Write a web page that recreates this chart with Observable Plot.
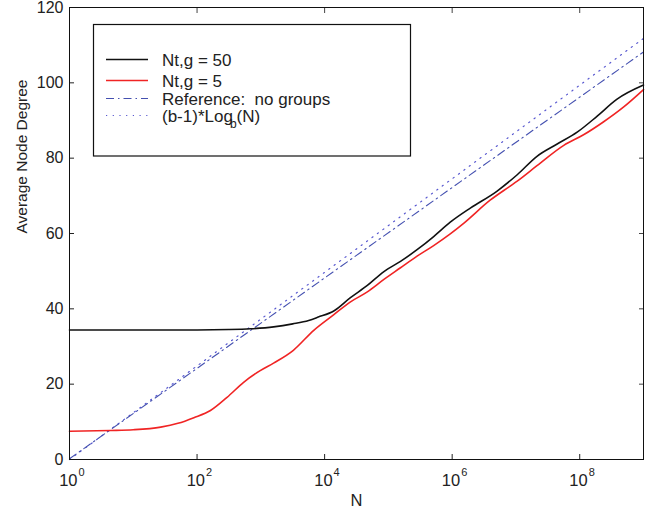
<!DOCTYPE html>
<html>
<head>
<meta charset="utf-8">
<script src="https://cdn.jsdelivr.net/npm/d3@7"></script>
<script src="https://cdn.jsdelivr.net/npm/@observablehq/plot@0.6"></script>
<style>
  html, body { margin: 0; padding: 0; background: #fff; }
  svg { display: block; }
</style>
</head>
<body>
<div id="chart"></div>
<script>
// ---- data ----
// x values given as log10(N)
const blackLogN = [0, 1, 2, 2.5, 2.84, 3.2, 3.5, 3.75, 3.9, 4.15, 4.4, 4.67, 4.93, 5.19, 5.45, 5.71, 5.97, 6.29, 6.7, 7.02, 7.33, 7.64, 7.96, 8.27, 8.58, 9];
const blackDeg  = [34.4, 34.4, 34.4, 34.5, 34.7, 35.2, 36.0, 36.9, 37.8, 39.5, 42.9, 46.2, 49.9, 52.6, 55.7, 59.2, 63.0, 66.8, 71.2, 75.6, 80.5, 83.7, 86.9, 91.1, 95.6, 99.4];

const redLogN = [0, 0.64, 1.0, 1.43, 1.7, 1.95, 2.21, 2.47, 2.73, 2.99, 3.2, 3.51, 3.83, 4.14, 4.4, 4.67, 4.93, 5.19, 5.45, 5.71, 5.97, 6.18, 6.6, 6.91, 7.02, 7.33, 7.75, 8.06, 8.37, 8.69, 9];
const redDeg  = [7.5, 7.7, 7.9, 8.6, 9.6, 11.1, 13.0, 16.5, 20.5, 23.6, 25.6, 29.0, 34.3, 38.4, 41.8, 44.5, 47.8, 50.9, 54.0, 56.8, 59.9, 62.7, 68.9, 72.6, 73.9, 78.0, 83.4, 86.2, 89.6, 93.6, 98.2];

const refLogN = [0, 9];
const refDeg  = [0.2, 108.2];

const logbLogN = [0, 9];
const logbDeg  = [0, 111.8];

const seriesNames = ["Nt,g = 50", "Nt,g = 5", "Reference:  no groups", "(b-1)*Log_b(N)"];
const yTicks = [0, 20, 40, 60, 80, 100, 120];
const xTickExponents = [0, 2, 4, 6, 8];

// ---- build tables ----
const toRows = (ls, vs) => ls.map((l, i) => ({N: Math.pow(10, l), deg: vs[i]}));
const black = toRows(blackLogN, blackDeg);
const red = toRows(redLogN, redDeg);
const ref = toRows(refLogN, refDeg);
const logb = toRows(logbLogN, logbDeg);

const FONT = "'Liberation Sans', Arial, Helvetica, sans-serif";
const COL_BLACK = "#111";
const COL_RED = "#f02424";
const COL_REF = "#4450b0";
const COL_DOT = "#5858d0";

const chart = Plot.plot({
  width: 665,
  height: 514,
  marginLeft: 69,
  marginRight: 22,
  marginTop: 7,
  marginBottom: 55,
  style: {fontFamily: FONT, background: "#fff", color: "#222"},
  x: {type: "log", domain: [1, 1e9], axis: null},
  y: {domain: [0, 120], axis: null},
  marks: [
    Plot.line(logb, {x: "N", y: "deg", stroke: COL_DOT, strokeWidth: 1.2, strokeDasharray: "1.2 5.5"}),
    Plot.line(ref, {x: "N", y: "deg", stroke: COL_REF, strokeWidth: 1.1, strokeDasharray: "8 4 1.5 4"}),
    Plot.line(red, {x: "N", y: "deg", stroke: COL_RED, strokeWidth: 1.6, curve: "monotone-x"}),
    Plot.line(black, {x: "N", y: "deg", stroke: COL_BLACK, strokeWidth: 1.6, curve: "monotone-x"}),
    // axes: inward ticks on all four sides
    Plot.axisY(yTicks, {anchor: "left", label: null, tickSize: -5, tickPadding: 11, fontSize: 16, tickFormat: d => String(d), stroke: "#222", fill: "#222"}),
    Plot.axisY(yTicks, {anchor: "right", label: null, tickSize: -5, tickFormat: () => "", stroke: "#444"}),
    Plot.axisX(xTickExponents.map(e => Math.pow(10, e)), {anchor: "bottom", label: null, tickSize: -5, tickFormat: () => "", stroke: "#222"}),
    Plot.axisX(xTickExponents.map(e => Math.pow(10, e)), {anchor: "top", label: null, tickSize: -5, tickFormat: () => "", stroke: "#444"}),
    // x tick labels: 10 with superscript exponent
    Plot.text(xTickExponents, {x: e => Math.pow(10, e), frameAnchor: "bottom", text: () => "10", textAnchor: "end", dx: 8, dy: 26, lineAnchor: "bottom", fontSize: 16.5, fill: "#222"}),
    Plot.text(xTickExponents, {x: e => Math.pow(10, e), frameAnchor: "bottom", text: e => String(e), textAnchor: "start", dx: 9, dy: 16, lineAnchor: "bottom", fontSize: 11, fill: "#222"}),
    // axis labels
    Plot.text(["N"], {frameAnchor: "bottom", text: d => d, dy: 46, lineAnchor: "bottom", fontSize: 16.5, fill: "#222"}),
    Plot.text(["Average Node Degree"], {frameAnchor: "left", text: d => d, rotate: -90, dx: -43, lineAnchor: "bottom", fontSize: 15.5, fill: "#222"}),
    Plot.frame({stroke: "#111", strokeWidth: 1})
  ]
});

document.getElementById("chart").appendChild(chart);

// ---- legend box inside plot area ----
const svg = d3.select(chart);
const lg = svg.append("g").attr("font-family", FONT).attr("font-size", 17).attr("fill", "#222").attr("text-anchor", "start");
lg.append("rect").attr("x", 93.5).attr("y", 24.5).attr("width", 317).attr("height", 131.5)
  .attr("fill", "#fff").attr("stroke", "#111").attr("stroke-width", 1.2);
const styles = [
  {stroke: COL_BLACK, dash: null, w: 1.6},
  {stroke: COL_RED, dash: null, w: 1.6},
  {stroke: COL_REF, dash: "8 4 1.5 4", w: 1.1},
  {stroke: COL_DOT, dash: "1.2 5.5", w: 1.2}
];
const rowsY = [59.5, 80.5, 98.5, 115.5];
seriesNames.forEach((name, i) => {
  const y = rowsY[i];
  lg.append("line").attr("x1", 106).attr("x2", 148).attr("y1", y).attr("y2", y)
    .attr("stroke", styles[i].stroke).attr("stroke-width", styles[i].w)
    .attr("stroke-dasharray", styles[i].dash);
  const t = lg.append("text").attr("x", 162).attr("y", y + 6).attr("text-anchor", "start");
  if (name.includes("_b")) {
    const [a, rest] = name.split("_b");
    t.append("tspan").text(a);
    t.append("tspan").attr("dx", -3).attr("dy", 6).attr("font-size", 12).text("b");
    t.append("tspan").attr("dy", -6).text(rest);
  } else {
    t.text(name);
  }
});
</script>
</body>
</html>
